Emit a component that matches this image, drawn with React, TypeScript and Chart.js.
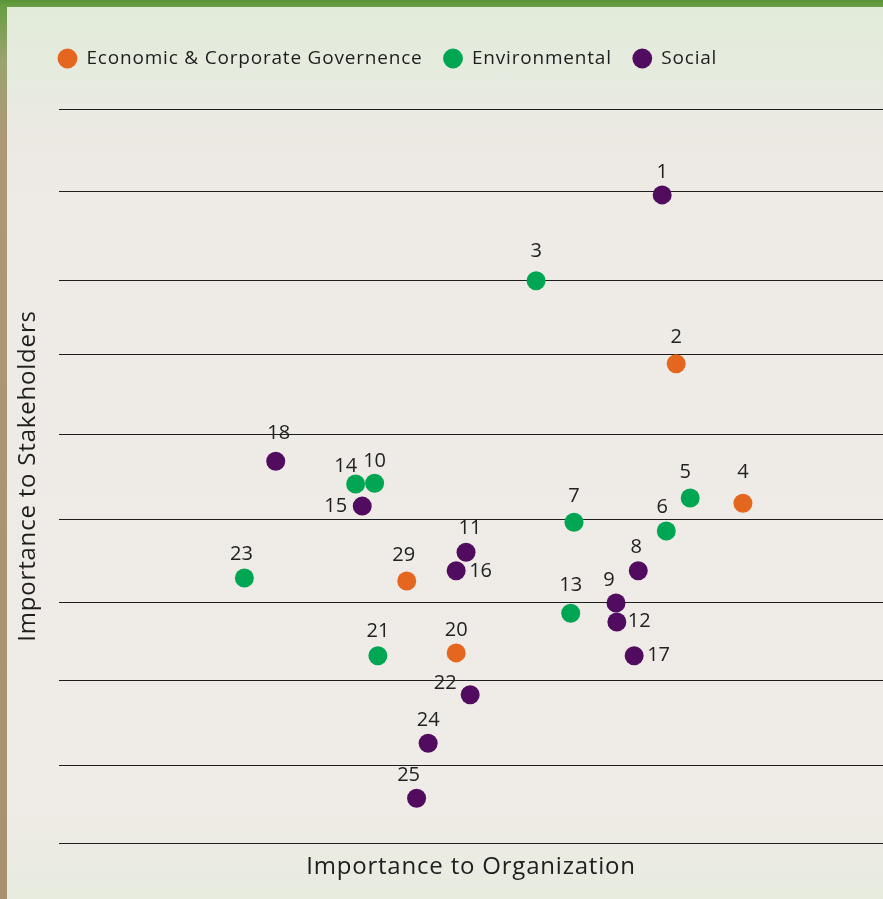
import React, { useEffect, useRef } from "react";
import { Chart, registerables } from "chart.js";

Chart.register(...registerables);

// ---- data ----
const seriesNames = ["Economic & Corporate Governence", "Environmental", "Social"];
const seriesColors = ["#e4661f", "#00a651", "#510c5f"];

const econIds = [2, 4, 20, 29];
const econX = [74.9, 83.0, 48.2, 42.2];
const econY = [65.3, 46.3, 25.9, 35.7];

const envIds = [3, 5, 6, 7, 10, 13, 14, 21, 23];
const envX = [57.9, 76.6, 73.7, 62.5, 38.3, 62.1, 36.0, 38.7, 22.5];
const envY = [76.6, 47.0, 42.5, 43.7, 49.0, 31.3, 48.9, 25.5, 36.1];

const socIds = [1, 8, 9, 11, 12, 15, 16, 17, 18, 22, 24, 25];
const socX = [73.2, 70.3, 67.6, 49.4, 67.7, 36.8, 48.2, 69.8, 26.3, 49.9, 44.8, 43.4];
const socY = [88.3, 37.1, 32.7, 39.6, 30.1, 45.9, 37.1, 25.5, 52.0, 20.2, 13.6, 6.1];

const gridLevels = [0, 10.5, 22.2, 32.7, 44.1, 55.7, 66.6, 76.6, 88.7, 100];

const xTitle = "Importance to Organization";
const yTitle = "Importance to Stakeholders";

// label placement (style): [dx, dy, align]
const labelPlacement: Record<number, [number, number, CanvasTextAlign]> = {
  1: [0, -23, "center"],
  2: [0, -26, "center"],
  3: [0, -29, "center"],
  4: [0, -31, "center"],
  5: [-5, -26, "center"],
  6: [-4, -24, "center"],
  7: [0, -26, "center"],
  8: [-2, -23, "center"],
  9: [-7, -23, "center"],
  10: [0, -22, "center"],
  11: [4, -24, "center"],
  12: [11, -1, "left"],
  13: [0, -28, "center"],
  14: [-10, -18, "center"],
  15: [-15, 0, "right"],
  16: [13, 1, "left"],
  17: [13, -1, "left"],
  18: [3, -28, "center"],
  20: [0, -23, "center"],
  21: [0, -25, "center"],
  22: [-25, -11, "center"],
  23: [-3, -24, "center"],
  24: [0, -23, "center"],
  25: [-8, -23, "center"],
  29: [-3, -26, "center"],
};

const FONT = "'Open Sans', 'Noto Sans', sans-serif";
const SPACING = "0.8px";

function toPoints(ids: number[], xs: number[], ys: number[]) {
  return ids.map((id, i) => ({ x: xs[i], y: ys[i], id }));
}

const labelPlugin = {
  id: "pointLabels",
  afterDatasetsDraw(chart: any) {
    const ctx = chart.ctx;
    ctx.save();
    ctx.letterSpacing = "0px";
    ctx.font = `20px ${FONT}`;
    ctx.fillStyle = "#222222";
    ctx.textBaseline = "middle";
    chart.data.datasets.forEach((ds: any, di: number) => {
      const meta = chart.getDatasetMeta(di);
      meta.data.forEach((el: any, i: number) => {
        const id = ds.data[i].id;
        const p = labelPlacement[id] || [0, -24, "center"];
        ctx.textAlign = p[2];
        ctx.fillText(String(id), el.x + p[0], el.y + p[1]);
      });
    });
    ctx.restore();
  },
};

const spacingPlugin = {
  id: "letterSpacing",
  beforeUpdate(chart: any) {
    chart.ctx.letterSpacing = SPACING;
  },
  beforeDraw(chart: any) {
    chart.ctx.letterSpacing = SPACING;
  },
};

const legendShift = {
  id: "legendShift",
  afterLayout(chart: any) {
    const lg = chart.legend;
    if (lg) {
      const h = lg.bottom - lg.top;
      lg.left = 37;
      lg.top = 28;
      lg.bottom = lg.top + h;
    }
  },
};

export default function App() {
  const ref = useRef<HTMLCanvasElement | null>(null);

  useEffect(() => {
    document.body.style.margin = "0";
    if (!ref.current) return;
    const chart = new Chart(ref.current, {
      type: "scatter",
      data: {
        datasets: [
          { label: seriesNames[0], data: toPoints(econIds, econX, econY), backgroundColor: seriesColors[0], borderWidth: 0, pointRadius: 9.5, pointHoverRadius: 9.5 },
          { label: seriesNames[1], data: toPoints(envIds, envX, envY), backgroundColor: seriesColors[1], borderWidth: 0, pointRadius: 9.5, pointHoverRadius: 9.5 },
          { label: seriesNames[2], data: toPoints(socIds, socX, socY), backgroundColor: seriesColors[2], borderWidth: 0, pointRadius: 9.5, pointHoverRadius: 9.5 },
        ],
      },
      options: {
        animation: false,
        responsive: false,
        layout: { autoPadding: false, padding: { top: 59, left: 0, right: 0, bottom: 0 } },
        plugins: {
          tooltip: { enabled: false },
          legend: {
            position: "top",
            align: "start",
            labels: {
              usePointStyle: true,
              pointStyle: "circle",
              boxWidth: 19,
              boxHeight: 14,
              padding: 21,
              color: "#1e1e1e",
              font: { family: FONT, size: 19 },
            },
          },
        },
        scales: {
          x: {
            type: "linear",
            min: 0,
            max: 100,
            grid: { display: false, drawTicks: false },
            border: { display: false },
            ticks: { display: false },
            title: {
              display: true,
              text: xTitle,
              color: "#1e1e1e",
              font: { family: FONT, size: 24, lineHeight: 1.1 },
              padding: { top: 11, bottom: 18.6 },
            },
          },
          y: {
            type: "linear",
            min: 0,
            max: 100,
            afterBuildTicks: (scale: any) => {
              scale.ticks = gridLevels.map((v) => ({ value: v }));
            },
            grid: { color: "#1e1e1e", lineWidth: 1, drawTicks: false },
            border: { display: false },
            ticks: { display: false },
            title: {
              display: true,
              text: yTitle,
              color: "#1e1e1e",
              font: { family: FONT, size: 24, lineHeight: 1.1 },
              padding: { top: 15, bottom: 17.6 },
            },
          },
        },
      },
      plugins: [spacingPlugin, labelPlugin, legendShift],
    });
    return () => chart.destroy();
  }, []);

  return (
    <div style={{ position: "relative", width: 883, height: 899, overflow: "hidden", background: "linear-gradient(to bottom, #5b9438 0px, #6a9e44 7px, #9aa36f 60px, #ae9775 140px, #a8916f 899px)" }}>
      <div
        style={{
          position: "absolute",
          left: 7,
          top: 7,
          right: 0,
          bottom: 0,
          background:
            "linear-gradient(to bottom, #e2ebd9 0px, #e6ebdf 70px, #ece9e3 130px, #eeebe6 200px, #efebe6 800px, #ebebe2 850px, #e7ecdf 892px)",
        }}
      />
      <canvas ref={ref} width={883} height={899} style={{ position: "absolute", left: 0, top: 0 }} />
    </div>
  );
}
